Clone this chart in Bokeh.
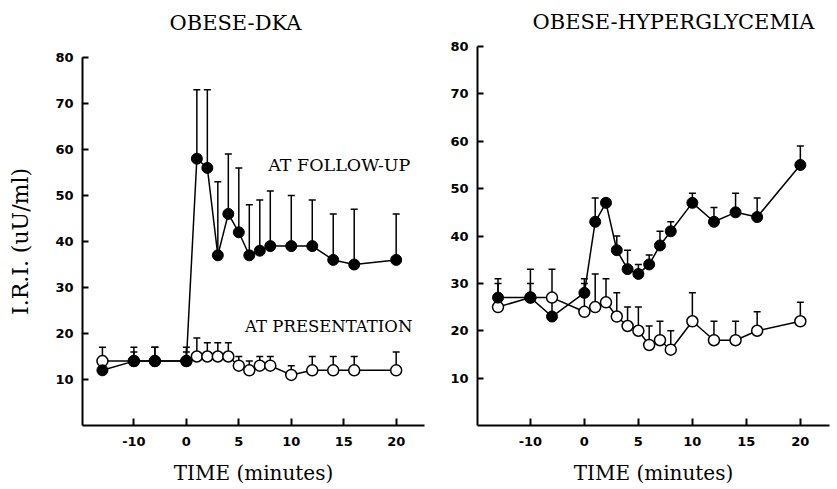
from bokeh.plotting import figure
from bokeh.layouts import row, column
from bokeh.models import FixedTicker, Label, Range1d
from bokeh.embed import file_html
from bokeh.resources import INLINE

# x positions on the (broken) time axis; tick "-10" sits at position -5
time_pos = [-8, -5, -3, 0, 1, 2, 3, 4, 5, 6, 7, 8, 10, 12, 14, 16, 20]
x_tick_pos = [-5, 0, 5, 10, 15, 20]
x_tick_labels = ["-10", "0", "5", "10", "15", "20"]
y_ticks = [10, 20, 30, 40, 50, 60, 70, 80]

dka_followup = [12, 14, 14, 14, 58, 56, 37, 46, 42, 37, 38, 39, 39, 39, 36, 35, 36]
dka_followup_top = [15, 16, 17, 16, 73, 73, 53, 59, 56, 48, 49, 51, 50, 49, 46, 47, 46]
dka_present = [14, 14, 14, 14, 15, 15, 15, 15, 13, 12, 13, 13, 11, 12, 12, 12, 12]
dka_present_top = [17, 17, 17, 17, 19, 18, 18, 18, 15, 14, 15, 15, 13, 15, 15, 15, 16]

hyp_followup = [27, 27, 23, 28, 43, 47, 37, 33, 32, 34, 38, 41, 47, 43, 45, 44, 55]
hyp_followup_top = [30, 30, 26.5, 31, 48, 47.5, 40, 37, 34, 36, 41, 43, 49, 46, 49, 48, 59]
hyp_present = [25, 27, 27, 24, 25, 26, 23, 21, 20, 17, 18, 16, 22, 18, 18, 20, 22]
hyp_present_top = [31, 33, 33, 30, 32, 31, 28, 25, 25, 21, 22, 20, 28, 22, 22, 24, 26]

TXT_FONT = "DejaVu Serif"
TICK_FONT = "DejaVu Sans"


def add_text(p, x, y, text, size):
    p.add_layout(Label(x=x, y=y, text=text, text_font=TXT_FONT,
                       text_font_size=size, text_color="black",
                       text_baseline="middle", text_align="left"))


def make_panel(title, followup, followup_top, present, present_top,
               width, height, lift, min_left, min_right, min_top,
               title_offset, title_standoff, ylabel=None):
    p = figure(width=width, height=height, output_backend="svg", toolbar_location=None,
               x_range=Range1d(-9.9, 22.7), y_range=Range1d(0, 80),
               min_border_left=min_left, min_border_right=min_right,
               min_border_top=min_top, min_border_bottom=64)
    p.margin = (-lift, 0, 0, 0)
    p.outline_line_color = None
    p.grid.visible = False
    p.background_fill_color = "white"
    p.border_fill_color = "white"

    p.title.text = title
    p.title.text_font = TXT_FONT
    p.title.text_font_size = "21px"
    p.title.text_font_style = "normal"
    p.title.text_color = "black"
    p.title.align = "left"
    p.title.offset = title_offset
    p.title.standoff = title_standoff

    for ax in (p.xaxis[0], p.yaxis[0]):
        ax.axis_line_width = 2
        ax.axis_line_color = "black"
        ax.major_tick_line_width = 2
        ax.major_tick_line_color = "black"
        ax.minor_tick_line_color = None
        ax.major_tick_out = 0
        ax.major_label_text_font = TICK_FONT
        ax.major_label_text_font_size = "13px"
        ax.major_label_text_font_style = "bold"
        ax.major_label_text_color = "black"
        ax.axis_label_text_font = TXT_FONT
        ax.axis_label_text_font_size = "20px"
        ax.axis_label_text_font_style = "normal"
        ax.axis_label_text_color = "black"

    p.xaxis.ticker = FixedTicker(ticks=x_tick_pos)
    p.xaxis.major_label_overrides = dict(zip(x_tick_pos, x_tick_labels))
    p.xaxis.major_tick_in = 7
    p.xaxis.major_label_standoff = 11
    p.xaxis.axis_label = "TIME (minutes)"
    p.xaxis.axis_label_standoff = 12

    p.yaxis.ticker = FixedTicker(ticks=y_ticks)
    p.yaxis.major_tick_in = 6
    p.yaxis.major_label_standoff = 9
    if ylabel:
        p.yaxis.axis_label = ylabel
        p.yaxis.axis_label_text_font_size = "22px"
        p.yaxis.axis_label_standoff = 19

    # error bars (upper only)
    for vals, tops in ((present, present_top), (followup, followup_top)):
        p.segment(x0=time_pos, y0=vals, x1=time_pos, y1=tops,
                  line_color="black", line_width=1.5)
        p.scatter(x=time_pos, y=tops, marker="dash", size=7,
                  line_color="black", line_width=1.5)

    # series lines
    p.line(time_pos, present, line_color="black", line_width=1.5)
    p.line(time_pos, followup, line_color="black", line_width=1.5)

    # markers: open = at presentation, filled = at follow-up
    p.scatter(time_pos, present, marker="circle", size=11,
              fill_color="white", line_color="black", line_width=1.5)
    p.scatter(time_pos, followup, marker="circle", size=11,
              fill_color="black", line_color="black", line_width=1)
    return p


p1 = make_panel("OBESE-DKA", dka_followup, dka_followup_top, dka_present, dka_present_top,
                width=440, height=503, lift=14, min_left=82, min_right=16, min_top=71,
                title_offset=87, title_standoff=45, ylabel="I.R.I. (uU/ml)")
add_text(p1, 7.8, 56.7, "AT FOLLOW-UP", "17.5px")
add_text(p1, 5.6, 21.5, "AT PRESENTATION", "16.5px")

p2 = make_panel("OBESE-HYPERGLYCEMIA", hyp_followup, hyp_followup_top, hyp_present, hyp_present_top,
                width=397, height=494, lift=5, min_left=37, min_right=8, min_top=51,
                title_offset=55, title_standoff=25)

layout = row(column(p1), column(p2))
open("out.html", "w").write(file_html(layout, INLINE))
